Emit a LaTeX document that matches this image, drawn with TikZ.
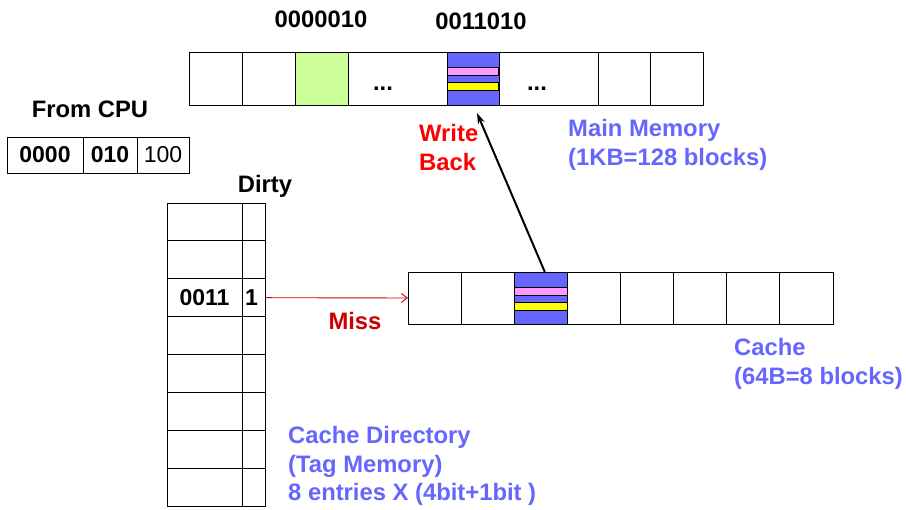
\documentclass[tikz,border=0pt]{standalone}
\usepackage{fontspec}
\setmainfont{Liberation Sans}
\usetikzlibrary{arrows.meta, positioning, calc}

\definecolor{blockblue}{HTML}{6666FF}
\definecolor{blockgreen}{HTML}{CCFF99}
\definecolor{barpink}{HTML}{FF99FF}
\definecolor{baryellow}{HTML}{FFFF00}
\definecolor{missred}{HTML}{CC0000}

% pink and yellow bars inside a dirty block
\newcommand{\blockbars}[1]{%
\draw[fill=barpink, line width=0.6pt] ($(#1.north west)+(0.5,15.5)$) rectangle ($(#1.north east)+(-0.5,23)$);
\draw[fill=baryellow, line width=0.6pt] ($(#1.north west)+(0.5,30)$) rectangle ($(#1.north east)+(-0.5,38.5)$);
}

\begin{document}
\begin{tikzpicture}[
x=1pt, y=-1pt,
cell/.style={draw, rectangle, inner sep=0pt, outer sep=0pt, line width=0.9pt, minimum width=53pt, minimum height=53pt},
note/.style={font=\fontsize{23.8}{28.3}\selectfont\bfseries, inner sep=0pt},
bluenote/.style={note, text=blockblue, align=left, anchor=north west},
missarrow/.style={-{Straight Barb[length=6pt,width=9pt]}, missred, line width=0.9pt},
wbarrow/.style={-{Stealth[length=11pt,width=7pt]}, line width=2pt}
]
\useasboundingbox (0,0) rectangle (906,510);

% main memory
\node[cell] (mm1) at (215.5,78.5) {};
\node[cell, right=0pt of mm1] (mm2) {};
\node[cell, fill=blockgreen, right=0pt of mm2] (mm3) {};
\node[cell, minimum width=99pt, right=0pt of mm3] (mm4) {};
\node[cell, fill=blockblue, minimum width=52pt, right=0pt of mm4] (mm5) {};
\node[cell, minimum width=99pt, right=0pt of mm5] (mm6) {};
\node[cell, minimum width=52pt, right=0pt of mm6] (mm7) {};
\node[cell, right=0pt of mm7] (mm8) {};
\blockbars{mm5}

\node[note, anchor=base] (dotsA) at (383,91) {...};
\node[note, anchor=base] (dotsB) at (537,91) {...};
\node[note, anchor=base] (addrA) at (321,28) {0000010};
\node[note, anchor=base] (addrB) at (481,30) {0011010};

% address from cpu
\node[note, anchor=base] (cpulabel) at (90,118) {From CPU};
\node[cell, minimum width=76pt, minimum height=36pt, font=\fontsize{23}{27}\selectfont\bfseries] (cpu1) at (45,155) {0000};
\node[cell, minimum width=54pt, minimum height=36pt, font=\fontsize{23}{27}\selectfont\bfseries, right=0pt of cpu1] (cpu2) {010};
\node[cell, minimum width=52pt, minimum height=36pt, font=\fontsize{23}{27}\selectfont, right=0pt of cpu2] (cpu3) {100};

% cache directory
\node[note, anchor=base] (dirtylabel) at (265,193) {Dirty};
\foreach \i in {1,...,8} {
  \node[cell, minimum width=75pt, minimum height=37.875pt] (tag\i) at (204.5, {203+37.875*(\i-0.5)}) {};
  \node[cell, minimum width=23pt, minimum height=37.875pt] (dirty\i) at (253.5, {203+37.875*(\i-0.5)}) {};
}
\node[note, font=\fontsize{23}{27}\selectfont\bfseries] (tagval) at (tag3) {0011};
\node[note, font=\fontsize{23}{27}\selectfont\bfseries] (dirtyval) at ([xshift=-2pt]dirty3.center) {1};

% cache
\foreach \i/\f in {1/white,2/white,3/blockblue,4/white,5/white,6/white,7/white,8/white}
  \node[cell, fill=\f, minimum width=53.125pt, minimum height=52pt] (c\i) at ({408+53.125*(\i-0.5)}, 298) {};
\blockbars{c3}

% connectors
\draw[missarrow] (dirty3.east) -- (c1.west);
\node[note, text=missred, anchor=base] (misslabel) at (355,330) {Miss};
\draw[wbarrow] ([xshift=4pt]c3.north) -- ([xshift=4pt,yshift=-8pt]mm5.south);
\node[note, text=red, align=left, anchor=north west] (wblabel) at (419,124.5) {Write\\Back};

% labels
\node[bluenote] (mmlabel) at (568,119.5) {Main Memory\\(1KB=128 blocks)};
\node[bluenote] (cachelabel) at (734,338.5) {Cache\\(64B=8 blocks)};
\node[bluenote] (dirlabel) at (288,426.5) {Cache Directory\\(Tag Memory)\\8 entries X (4bit+1bit )};

\end{tikzpicture}
\end{document}
